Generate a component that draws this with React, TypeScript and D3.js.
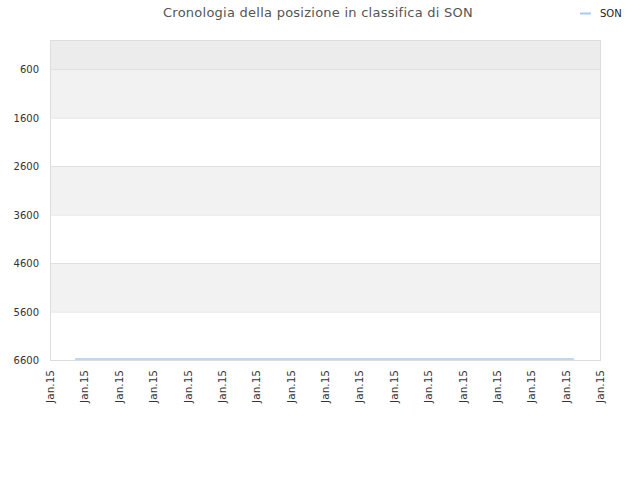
import React, { useEffect, useRef } from 'react';
import * as d3 from 'd3';

const title = 'Cronologia della posizione in classifica di SON';
const seriesName = 'SON';

// x domain and tick dates (all in Jan 2015, formatted as "Jan.15")
const domainDates = ['2015-01-01T00:00', '2015-01-17T00:00'];
const pointDates = [
  '2015-01-01T17:30',
  '2015-01-04T00:00',
  '2015-01-07T00:00',
  '2015-01-10T00:00',
  '2015-01-13T00:00',
  '2015-01-16T05:45',
];
const pointRanks = [6580, 6580, 6580, 6580, 6580, 6580];
const yTicks = [600, 1600, 2600, 3600, 4600, 5600, 6600];
const yDomain = [0, 6600];

const App: React.FC = () => {
  const svgRef = useRef<SVGSVGElement | null>(null);

  useEffect(() => {
    if (!svgRef.current) return;
    const width = 640;
    const height = 480;
    const margin = { top: 40, right: 40, bottom: 120, left: 50 };
    const w = width - margin.left - margin.right;
    const h = height - margin.top - margin.bottom;

    const svg = d3.select(svgRef.current);
    svg.selectAll('*').remove();
    svg.attr('width', width).attr('height', height).style('font-family', 'DejaVu Sans, sans-serif');

    const parse = (s: string) => new Date(s);
    const x = d3.scaleTime().domain(domainDates.map(parse)).range([0, w]);
    const y = d3.scaleLinear().domain(yDomain).range([0, h]);

    const g = svg.append('g').attr('transform', `translate(${margin.left},${margin.top})`);

    // top band (above first tick)
    g.append('rect')
      .attr('x', 0)
      .attr('y', 0)
      .attr('width', w)
      .attr('height', y(yTicks[0]))
      .attr('fill', '#ececec');

    // alternating bands
    for (let i = 0; i < yTicks.length - 1; i++) {
      g.append('rect')
        .attr('x', 0)
        .attr('y', y(yTicks[i]))
        .attr('width', w)
        .attr('height', y(yTicks[i + 1]) - y(yTicks[i]))
        .attr('fill', i % 2 === 0 ? '#f2f2f2' : '#ffffff');
    }

    // grid lines
    g.selectAll('.grid')
      .data(yTicks)
      .enter()
      .append('line')
      .attr('x1', 0)
      .attr('x2', w)
      .attr('y1', (d) => y(d) + 0.5)
      .attr('y2', (d) => y(d) + 0.5)
      .attr('stroke', '#e0e0e0');

    // frame
    g.append('rect')
      .attr('x', 0.5)
      .attr('y', 0.5)
      .attr('width', w)
      .attr('height', h)
      .attr('fill', 'none')
      .attr('stroke', '#dddddd');

    // y labels
    g.selectAll('.ylab')
      .data(yTicks)
      .enter()
      .append('text')
      .attr('x', -11)
      .attr('y', (d) => y(d) + 4)
      .attr('text-anchor', 'end')
      .attr('font-size', 10)
      .attr('fill', '#333')
      .text((d) => d);

    // x labels
    const xTicks = d3.timeDay.range(parse(domainDates[0]), d3.timeDay.offset(parse(domainDates[1]), 1));
    const fmt = d3.timeFormat('%b.%y');
    g.selectAll('.xlab')
      .data(xTicks)
      .enter()
      .append('text')
      .attr('transform', (d) => `translate(${x(d) + 4},${h + 10}) rotate(-90)`)
      .attr('text-anchor', 'end')
      .attr('font-size', 10.5)
      .attr('fill', '#333')
      .text((d) => fmt(d));

    // line
    const pts = pointDates.map((d, i) => ({ date: parse(d), rank: pointRanks[i] }));
    const line = d3
      .line<{ date: Date; rank: number }>()
      .x((d) => x(d.date))
      .y((d) => y(d.rank));
    g.append('path')
      .datum(pts)
      .attr('d', line)
      .attr('fill', 'none')
      .attr('stroke', '#a6cdf0')
      .attr('stroke-width', 1.5);

    // title
    svg
      .append('text')
      .attr('x', 318)
      .attr('y', 17)
      .attr('text-anchor', 'middle')
      .attr('font-size', 13)
      .attr('letter-spacing', 0.25)
      .attr('fill', '#555')
      .text(title);

    // legend
    svg
      .append('line')
      .attr('x1', 580)
      .attr('x2', 591)
      .attr('y1', 13.5)
      .attr('y2', 13.5)
      .attr('stroke', '#a6cdf0')
      .attr('stroke-width', 2);
    svg
      .append('text')
      .attr('x', 600)
      .attr('y', 17)
      .attr('font-size', 10)
      .attr('fill', '#222')
      .text(seriesName);
  }, []);

  return (
    <div style={{ position: 'absolute', left: 0, top: 0 }}>
      <svg ref={svgRef}></svg>
    </div>
  );
};

export default App;
